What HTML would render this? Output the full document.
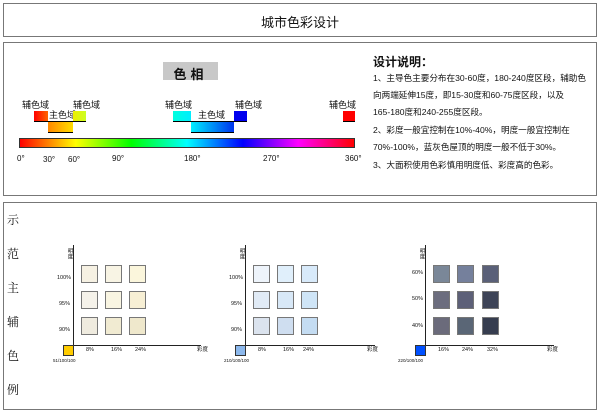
<!DOCTYPE html>
<html><head><meta charset="utf-8"><style>
body{margin:0;width:600px;height:415px;background:#fff;position:relative;overflow:hidden;font-family:"Liberation Sans","Noto Sans CJK SC",sans-serif;color:#111}
div,span{position:absolute}
.box{border:1.5px solid #777;box-sizing:border-box}
.t{font-size:9px;white-space:nowrap;line-height:1}
.s{font-size:5.5px;white-space:nowrap;line-height:1}
.sq{width:17px;height:18px;border:1px solid #777;box-sizing:border-box}
.ln{font-size:8.6px;white-space:nowrap;line-height:1;left:373px}
.vt{font-family:"Noto Serif CJK SC",serif;font-size:12px;left:7px;line-height:1}
</style></head><body>
<div class="box" style="left:3px;top:3px;width:594px;height:34px"></div>
<span style="left:0;width:600px;top:12px;text-align:center;font-size:13px">城市色彩设计</span>

<div class="box" style="left:3px;top:42px;width:594px;height:154px"></div>
<div style="left:163px;top:62px;width:55px;height:18px;background:#c8c8c8"></div>
<span style="left:163px;width:55px;top:64px;text-align:center;font-size:13px;font-weight:bold;letter-spacing:4px">色相</span>

<span class="t" style="left:22px;top:101px">辅色域</span>
<span class="t" style="left:73px;top:101px">辅色域</span>
<span class="t" style="left:49px;top:111px">主色域</span>
<span class="t" style="left:165px;top:101px">辅色域</span>
<span class="t" style="left:235px;top:101px">辅色域</span>
<span class="t" style="left:198px;top:111px">主色域</span>
<span class="t" style="left:329px;top:101px">辅色域</span>

<div style="left:34px;top:111px;width:14px;height:10px;background:linear-gradient(90deg,#f00,#f60);border-bottom:1px solid #000"></div>
<div style="left:73px;top:111px;width:13px;height:10px;background:linear-gradient(90deg,#ee0,#cf2);border-bottom:1px solid #000"></div>
<div style="left:48px;top:121px;width:25px;height:10px;background:linear-gradient(90deg,#f80,#fd0);border-bottom:1px solid #000;border-top:1px solid #000"></div>
<div style="left:173px;top:111px;width:18px;height:10px;background:linear-gradient(90deg,#0fd,#0ef);border-bottom:1px solid #000"></div>
<div style="left:191px;top:121px;width:43px;height:10px;background:linear-gradient(90deg,#0ef,#03e);border-bottom:1px solid #000;border-top:1px solid #000"></div>
<div style="left:234px;top:111px;width:13px;height:10px;background:#00e;border-bottom:1px solid #000"></div>
<div style="left:343px;top:111px;width:12px;height:10px;background:#f00;border-bottom:1px solid #000"></div>

<div style="left:19px;top:138px;width:336px;height:10px;border:1px solid #333;box-sizing:border-box;background:linear-gradient(90deg,#f00 0%,#ff0 16.7%,#0f0 33.3%,#0ff 50%,#00f 66.7%,#f0f 83.3%,#f00 100%)"></div>
<span class="t" style="left:17px;top:155px;font-size:8px">0°</span>
<span class="t" style="left:43px;top:156px;font-size:8px">30°</span>
<span class="t" style="left:68px;top:156px;font-size:8px">60°</span>
<span class="t" style="left:112px;top:155px;font-size:8px">90°</span>
<span class="t" style="left:184px;top:155px;font-size:8px">180°</span>
<span class="t" style="left:263px;top:155px;font-size:8px">270°</span>
<span class="t" style="left:345px;top:155px;font-size:8px">360°</span>

<span style="left:373px;top:53px;font-size:12px;font-weight:bold">设计说明：</span>
<span class="ln" style="top:74px">1、主导色主要分布在30-60度，180-240度区段，辅助色</span>
<span class="ln" style="top:91px">向两端延伸15度，即15-30度和60-75度区段，以及</span>
<span class="ln" style="top:108px">165-180度和240-255度区段。</span>
<span class="ln" style="top:126px">2、彩度一般宜控制在10%-40%，明度一般宜控制在</span>
<span class="ln" style="top:143px">70%-100%，蓝灰色屋顶的明度一般不低于30%。</span>
<span class="ln" style="top:161px">3、大面积使用色彩慎用明度低、彩度高的色彩。</span>

<div class="box" style="left:3px;top:202px;width:594px;height:208px"></div>
<span class="vt" style="top:214px">示</span>
<span class="vt" style="top:248px">范</span>
<span class="vt" style="top:282px">主</span>
<span class="vt" style="top:316px">辅</span>
<span class="vt" style="top:350px">色</span>
<span class="vt" style="top:384px">例</span>

<!-- chart 1 -->
<div style="left:73px;top:245px;width:1px;height:100px;background:#222"></div>
<div style="left:73px;top:345px;width:128px;height:1px;background:#222"></div>
<div style="left:63px;top:345px;width:11px;height:11px;background:#fc0;border:1px solid #333;box-sizing:border-box"></div>
<span class="s" style="left:66px;top:248px;writing-mode:vertical-rl">明度</span>
<span class="s" style="left:57px;top:276px">100%</span>
<span class="s" style="left:59px;top:302px">95%</span>
<span class="s" style="left:59px;top:328px">90%</span>
<span class="s" style="left:86px;top:348px">8%</span>
<span class="s" style="left:111px;top:348px">16%</span>
<span class="s" style="left:135px;top:348px">24%</span>
<span class="s" style="left:197px;top:348px">彩度</span>
<span class="s" style="left:53px;top:359px;font-size:4.5px">51/100/100</span>
<div class="sq" style="left:81px;top:265px;background:#f6f1e3"></div>
<div class="sq" style="left:105px;top:265px;background:#f8f4e4"></div>
<div class="sq" style="left:129px;top:265px;background:#fbf6dc"></div>
<div class="sq" style="left:81px;top:291px;background:#f5f2ea"></div>
<div class="sq" style="left:105px;top:291px;background:#f9f5e2"></div>
<div class="sq" style="left:129px;top:291px;background:#f7efd4"></div>
<div class="sq" style="left:81px;top:317px;background:#efebdf"></div>
<div class="sq" style="left:105px;top:317px;background:#f1ebd2"></div>
<div class="sq" style="left:129px;top:317px;background:#efe8cc"></div>

<!-- chart 2 -->
<div style="left:245px;top:245px;width:1px;height:100px;background:#222"></div>
<div style="left:245px;top:345px;width:130px;height:1px;background:#222"></div>
<div style="left:235px;top:345px;width:11px;height:11px;background:#8cb8ec;border:1px solid #333;box-sizing:border-box"></div>
<span class="s" style="left:238px;top:248px;writing-mode:vertical-rl">明度</span>
<span class="s" style="left:229px;top:276px">100%</span>
<span class="s" style="left:231px;top:302px">95%</span>
<span class="s" style="left:231px;top:328px">90%</span>
<span class="s" style="left:258px;top:348px">8%</span>
<span class="s" style="left:283px;top:348px">16%</span>
<span class="s" style="left:303px;top:348px">24%</span>
<span class="s" style="left:367px;top:348px">彩度</span>
<span class="s" style="left:224px;top:359px;font-size:4.5px">210/100/100</span>
<div class="sq" style="left:253px;top:265px;background:#eef4fb"></div>
<div class="sq" style="left:277px;top:265px;background:#e0effb"></div>
<div class="sq" style="left:301px;top:265px;background:#d8eafa"></div>
<div class="sq" style="left:253px;top:291px;background:#e1ebf6"></div>
<div class="sq" style="left:277px;top:291px;background:#d8e8f7"></div>
<div class="sq" style="left:301px;top:291px;background:#cfe5f7"></div>
<div class="sq" style="left:253px;top:317px;background:#dbe3ee"></div>
<div class="sq" style="left:277px;top:317px;background:#cfdef0"></div>
<div class="sq" style="left:301px;top:317px;background:#c4dcf2"></div>

<!-- chart 3 -->
<div style="left:425px;top:245px;width:1px;height:100px;background:#222"></div>
<div style="left:425px;top:345px;width:129px;height:1px;background:#222"></div>
<div style="left:415px;top:345px;width:11px;height:11px;background:#0050ff;border:1px solid #333;box-sizing:border-box"></div>
<span class="s" style="left:418px;top:248px;writing-mode:vertical-rl">明度</span>
<span class="s" style="left:412px;top:271px">60%</span>
<span class="s" style="left:412px;top:297px">50%</span>
<span class="s" style="left:412px;top:324px">40%</span>
<span class="s" style="left:438px;top:348px">16%</span>
<span class="s" style="left:462px;top:348px">24%</span>
<span class="s" style="left:487px;top:348px">32%</span>
<span class="s" style="left:547px;top:348px">彩度</span>
<span class="s" style="left:398px;top:359px;font-size:4.5px">220/100/100</span>
<div class="sq" style="left:433px;top:265px;background:#7a8798"></div>
<div class="sq" style="left:457px;top:265px;background:#75809c"></div>
<div class="sq" style="left:482px;top:265px;background:#5a6078"></div>
<div class="sq" style="left:433px;top:291px;background:#6c6d7e"></div>
<div class="sq" style="left:457px;top:291px;background:#5d6078"></div>
<div class="sq" style="left:482px;top:291px;background:#3e4457"></div>
<div class="sq" style="left:433px;top:317px;background:#6b6b7b"></div>
<div class="sq" style="left:457px;top:317px;background:#5a6676"></div>
<div class="sq" style="left:482px;top:317px;background:#363d4f"></div>
</body></html>
